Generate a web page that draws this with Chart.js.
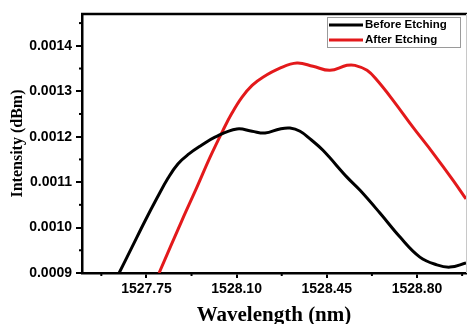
<!DOCTYPE html>
<html>
<head>
<meta charset="utf-8">
<script src="https://cdn.jsdelivr.net/npm/chart.js@4.4.0/dist/chart.umd.min.js"></script>
<style>
  html, body { margin: 0; padding: 0; background: #fff; overflow: hidden; }
  #wrap { width: 467px; height: 324px; }
</style>
</head>
<body>
<div id="wrap"><canvas id="myChart" width="467" height="324"></canvas></div>
<script>
// data
var seriesNames = ['Before Etching', 'After Etching'];
var seriesColors = ['#000000', '#e3191b'];

var beforeX = [1527.644, 1527.694, 1527.744, 1527.791, 1527.834, 1527.872, 1527.915, 1527.958, 1528.016, 1528.101,
  1528.160, 1528.210, 1528.268, 1528.307, 1528.346, 1528.385, 1528.435, 1528.528, 1528.579, 1528.656,
  1528.734, 1528.811, 1528.877, 1528.928, 1528.990];
var beforeY = [0.000900, 0.000957, 0.001014, 0.001065, 0.001109, 0.001140, 0.001162, 0.001179, 0.001199, 0.001217,
  0.001212, 0.001208, 0.001217, 0.001219, 0.001212, 0.001195, 0.001170, 0.001111, 0.001082, 0.001032,
  0.000979, 0.000935, 0.000918, 0.000913, 0.000922];

var afterX = [1527.799, 1527.888, 1527.946, 1527.997, 1528.047, 1528.082, 1528.121, 1528.160, 1528.202, 1528.268,
  1528.334, 1528.396, 1528.462, 1528.528, 1528.559, 1528.606, 1528.645, 1528.707, 1528.784, 1528.862,
  1528.940, 1528.990];
var afterY = [0.000900, 0.001016, 0.001089, 0.001155, 0.001214, 0.001252, 0.001287, 0.001313, 0.001331, 0.001351,
  0.001362, 0.001355, 0.001346, 0.001357, 0.001357, 0.001346, 0.001324, 0.001280, 0.001221, 0.001164,
  0.001104, 0.001063];

var xTicks = [1527.75, 1528.10, 1528.45, 1528.80];
var xMinorTicks = [1527.575, 1527.925, 1528.275, 1528.625, 1528.975];
var yTicks = [0.0009, 0.0010, 0.0011, 0.0012, 0.0013, 0.0014];
var yMinorTicks = [0.00095, 0.00105, 0.00115, 0.00125, 0.00135, 0.00145];

function toPoints(xs, ys) {
  return xs.map(function (x, i) { return { x: x, y: ys[i] }; });
}

// minor ticks, top/right frame and the boxed legend
var framePlugin = {
  id: 'framePlugin',
  afterDraw: function (chart) {
    var ctx = chart.ctx;
    var a = chart.chartArea;
    var xs = chart.scales.x;
    var ys = chart.scales.y;
    ctx.save();
    ctx.strokeStyle = '#000';
    ctx.lineWidth = 2;
    xMinorTicks.forEach(function (v) {
      var px = xs.getPixelForValue(v);
      ctx.beginPath();
      ctx.moveTo(px, a.bottom);
      ctx.lineTo(px, a.bottom + 3);
      ctx.stroke();
    });
    yMinorTicks.forEach(function (v) {
      var py = ys.getPixelForValue(v);
      ctx.beginPath();
      ctx.moveTo(a.left, py);
      ctx.lineTo(a.left - 3, py);
      ctx.stroke();
    });
    // top border
    ctx.lineWidth = 2.5;
    ctx.beginPath();
    ctx.moveTo(a.left - 1, a.top);
    ctx.lineTo(chart.width, a.top);
    ctx.stroke();
    // faint right border
    ctx.strokeStyle = '#c8c8c8';
    ctx.lineWidth = 1;
    ctx.beginPath();
    ctx.moveTo(a.right + 0.5, a.top);
    ctx.lineTo(a.right + 0.5, a.bottom);
    ctx.stroke();

    // legend box
    var bx = a.right - 139, by = a.top + 3, bw = 133, bh = 30;
    ctx.fillStyle = '#fff';
    ctx.fillRect(bx, by, bw, bh);
    ctx.strokeStyle = '#9a9a9a';
    ctx.lineWidth = 1;
    ctx.strokeRect(bx + 0.5, by + 0.5, bw, bh);
    ctx.font = 'bold 11.5px "Liberation Sans", Arial, sans-serif';
    ctx.textBaseline = 'middle';
    ctx.textAlign = 'left';
    chart.data.datasets.forEach(function (ds, i) {
      var ly = by + 8 + i * 15;
      ctx.strokeStyle = ds.borderColor;
      ctx.lineWidth = 3;
      ctx.beginPath();
      ctx.moveTo(bx + 2, ly);
      ctx.lineTo(bx + 36, ly);
      ctx.stroke();
      ctx.fillStyle = '#000';
      ctx.fillText(ds.label, bx + 38, ly);
    });
    ctx.restore();
  }
};

var config = {
  type: 'line',
  data: {
    datasets: [{
      label: seriesNames[0],
      data: toPoints(beforeX, beforeY),
      borderColor: seriesColors[0],
      borderWidth: 3,
      pointRadius: 0,
      tension: 0.4
    }, {
      label: seriesNames[1],
      data: toPoints(afterX, afterY),
      borderColor: seriesColors[1],
      borderWidth: 3,
      pointRadius: 0,
      tension: 0.4
    }]
  },
  options: {
    responsive: false,
    animation: false,
    devicePixelRatio: 1,
    layout: { padding: { top: 14, right: 1, left: 0, bottom: 0 } },
    plugins: {
      legend: { display: false },
      tooltip: { enabled: false }
    },
    scales: {
      x: {
        type: 'linear',
        min: 1527.5,
        max: 1528.99,
        afterBuildTicks: function (scale) {
          scale.ticks = xTicks.map(function (v) { return { value: v }; });
        },
        afterFit: function (scale) { scale.height = 51; },
        grid: { drawOnChartArea: false, drawTicks: true, tickLength: 5, color: '#000', lineWidth: 2 },
        border: { display: true, color: '#000', width: 2.5 },
        ticks: {
          color: '#000',
          padding: 3,
          maxRotation: 0,
          font: { family: '"Liberation Sans", Arial, sans-serif', size: 14, weight: 'bold' },
          callback: function (v) { return v.toFixed(2); }
        },
        title: {
          display: true,
          text: 'Wavelength (nm)',
          color: '#000',
          padding: 0,
          font: { family: '"Liberation Serif", "Times New Roman", serif', size: 21, weight: 'bold', lineHeight: 0.8 }
        }
      },
      y: {
        min: 0.0009,
        max: 0.00147,
        afterBuildTicks: function (scale) {
          scale.ticks = yTicks.map(function (v) { return { value: v }; });
        },
        afterFit: function (scale) { scale.width = 82; },
        grid: { drawOnChartArea: false, drawTicks: true, tickLength: 6, color: '#000', lineWidth: 2 },
        border: { display: true, color: '#000', width: 2.5 },
        ticks: {
          color: '#000',
          padding: 4,
          font: { family: '"Liberation Sans", Arial, sans-serif', size: 14, weight: 'bold' },
          callback: function (v) { return v.toFixed(4); }
        },
        title: {
          display: true,
          text: 'Intensity (dBm)',
          color: '#000',
          padding: { top: 8, bottom: 0 },
          font: { family: '"Liberation Serif", "Times New Roman", serif', size: 16, weight: 'bold' }
        }
      }
    }
  },
  plugins: [framePlugin]
};

// Create the chart
var myChart = new Chart(document.getElementById('myChart'), config);
</script>
</body>
</html>
